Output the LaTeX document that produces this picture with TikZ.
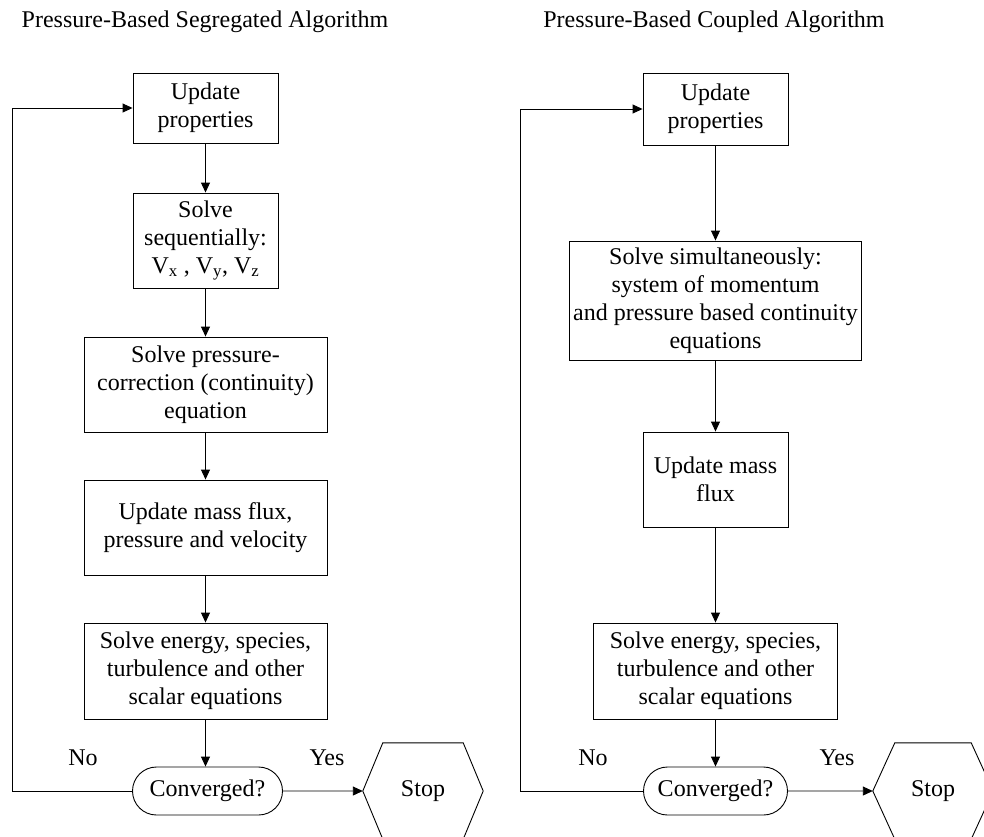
\documentclass[tikz,border=0pt]{standalone}
\usepackage{fontspec}
\setmainfont{Liberation Serif}
\usetikzlibrary{arrows.meta,shapes.misc}

\tikzset{
  stepbox/.style={draw, line width=0.9pt, rectangle, inner sep=0pt, align=center,
    font=\fontsize{24}{28}\selectfont},
  testbox/.style={draw, line width=0.9pt, rounded rectangle, inner sep=0pt,
    minimum height=48pt, font=\fontsize{24}{28}\selectfont},
  endframe/.style={inner sep=0pt, minimum width=120pt, minimum height=96pt,
    font=\fontsize{24}{28}\selectfont},
  hexline/.style={draw, line width=0.9pt},
  flow/.style={line width=0.9pt, -{Triangle[length=10pt,width=9pt]}},
  heading/.style={font=\fontsize{24}{28}\selectfont},
  answer/.style={font=\fontsize{24}{28}\selectfont}
}

\begin{document}
\begin{tikzpicture}[x=1pt,y=-1pt]
\useasboundingbox (0,0) rectangle (984,836);

% ---------- segregated algorithm ----------
\node[heading] (ltitle) at (205,22) {Pressure-Based Segregated Algorithm};

\node[stepbox, minimum width=145pt, minimum height=70pt] (lup) at (205.5,108)
  {Update\\properties};
\node[stepbox, minimum width=145pt, minimum height=95pt] (lseq) at (205.5,240.5)
  {Solve\\sequentially:\\V\textsubscript{x} , V\textsubscript{y}, V\textsubscript{z}};
\node[stepbox, minimum width=243pt, minimum height=95pt] (lpc) at (205.5,384.5)
  {Solve pressure-\\correction (continuity)\\equation};
\node[stepbox, minimum width=243pt, minimum height=95pt] (lmf) at (205.5,527.5)
  {Update mass flux,\\pressure and velocity};
\node[stepbox, minimum width=243pt, minimum height=96pt] (len) at (205.5,671)
  {Solve energy, species,\\turbulence and other\\scalar equations};
\node[testbox, minimum width=150pt] (lconv) at (207.5,791) {Converged?};
\node[endframe] (lstop) at (423,791) {Stop};
\draw[hexline] (lstop.west) -- ([xshift=20pt]lstop.north west)
  -- ([xshift=-20pt]lstop.north east) -- (lstop.east)
  -- ([xshift=-20pt]lstop.south east) -- ([xshift=20pt]lstop.south west) -- cycle;

\node[answer] (lno) at (83,758) {No};
\node[answer] (lyes) at (327,758) {Yes};

\draw[flow] (lup) -- (lseq);
\draw[flow] (lseq) -- (lpc);
\draw[flow] (lpc) -- (lmf);
\draw[flow] (lmf) -- (len);
\draw[flow] (len.south) -- (len.south |- lconv.north);
\draw[flow] (lconv) -- (lstop.west);
\coordinate (lloop) at (12,108);
\draw[flow] (lconv.west) -| (lloop) -- (lup.west);

% ---------- coupled algorithm ----------
\node[heading] (rtitle) at (714,22) {Pressure-Based Coupled Algorithm};

\node[stepbox, minimum width=145pt, minimum height=72pt] (rup) at (715.5,109)
  {Update\\properties};
\node[stepbox, minimum width=292pt, minimum height=119pt] (rsim) at (715.5,300.5)
  {Solve simultaneously:\\system of momentum\\and pressure based continuity\\equations};
\node[stepbox, minimum width=145pt, minimum height=95pt] (rmf) at (715.5,479.5)
  {Update mass\\flux};
\node[stepbox, minimum width=244pt, minimum height=96pt] (ren) at (715.5,671)
  {Solve energy, species,\\turbulence and other\\scalar equations};
\node[testbox, minimum width=144pt] (rconv) at (715.5,791) {Converged?};
\node[endframe] (rstop) at (933,791) {Stop};
\draw[hexline] (rstop.west) -- ([xshift=22pt]rstop.north west)
  -- ([xshift=-22pt]rstop.north east) -- (rstop.east)
  -- ([xshift=-22pt]rstop.south east) -- ([xshift=22pt]rstop.south west) -- cycle;

\node[answer] (rno) at (593,758) {No};
\node[answer] (ryes) at (837,758) {Yes};

\draw[flow] (rup) -- (rsim);
\draw[flow] (rsim) -- (rmf);
\draw[flow] (rmf) -- (ren);
\draw[flow] (ren) -- (rconv);
\draw[flow] (rconv) -- (rstop.west);
\coordinate (rloop) at (520,109);
\draw[flow] (rconv.west) -| (rloop) -- (rup.west);
\end{tikzpicture}
\end{document}
